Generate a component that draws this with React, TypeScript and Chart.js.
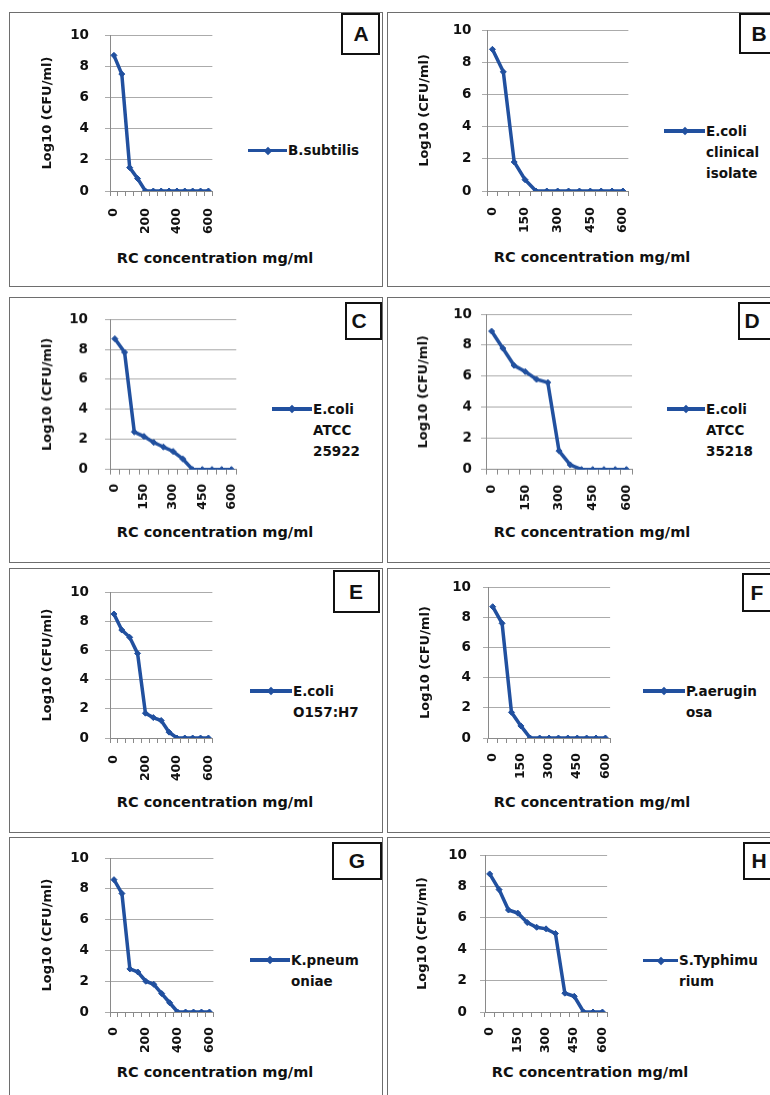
import React, { useEffect, useRef } from "react";
import { Chart, registerables } from "chart.js";

Chart.register(...registerables);

// ---------- data ----------
const categories = ["0", "50", "100", "150", "200", "250", "300", "350", "400", "450", "500", "550", "600"];

const bSubtilis = [8.7, 7.5, 1.5, 0.8, 0, 0, 0, 0, 0, 0, 0, 0, 0];
const eColiClinical = [8.8, 7.4, 1.8, 0.7, 0, 0, 0, 0, 0, 0, 0, 0, 0];
const eColiATCC25922 = [8.7, 7.8, 2.5, 2.2, 1.8, 1.5, 1.2, 0.7, 0, 0, 0, 0, 0];
const eColiATCC35218 = [8.9, 7.8, 6.7, 6.3, 5.8, 5.6, 1.2, 0.3, 0, 0, 0, 0, 0];
const eColiO157 = [8.5, 7.4, 6.9, 5.8, 1.7, 1.4, 1.2, 0.4, 0, 0, 0, 0, 0];
const pAeruginosa = [8.7, 7.6, 1.7, 0.8, 0, 0, 0, 0, 0, 0, 0, 0, 0];
const kPneumoniae = [8.6, 7.7, 2.8, 2.6, 2.0, 1.8, 1.2, 0.6, 0, 0, 0, 0, 0];
const sTyphimurium = [8.8, 7.8, 6.5, 6.3, 5.7, 5.4, 5.3, 5.0, 1.2, 1.0, 0, 0, 0];

const seriesData = [bSubtilis, eColiClinical, eColiATCC25922, eColiATCC35218, eColiO157, pAeruginosa, kPneumoniae, sTyphimurium];
const legendLines = [
  ["B.subtilis"],
  ["E.coli", "clinical", "isolate"],
  ["E.coli", "ATCC", "25922"],
  ["E.coli", "ATCC", "35218"],
  ["E.coli", "O157:H7"],
  ["P.aerugin", "osa"],
  ["K.pneum", "oniae"],
  ["S.Typhimu", "rium"],
];
const panelLetters = ["A", "B", "C", "D", "E", "F", "G", "H"];
const labelEvery = [4, 3, 3, 3, 4, 3, 4, 3];
const yMin = 0;
const yMax = 10;
const yStep = 2;
const yTitle = "Log10 (CFU/ml)";
const xTitle = "RC concentration mg/ml";

// ---------- layout / style ----------
const FONT = "'DejaVu Sans', 'Liberation Sans', sans-serif";
const BLUE = "#21509F";

type Layout = {
  box: number[]; // panel border x,y,w,h
  axisX: number;
  right: number;
  top: number;
  bottom: number;
  yGap: number;
  xGap: number;
  xTitleX: number;
  xTitleY: number;
  legX: number;
  legW: number;
  legY: number;
  letterBox: number[]; // x,y,w,h
  letterCx: number;
};

const layouts: Layout[] = [
  { box: [9, 12, 374, 275], axisX: 110, right: 221, top: 31, bottom: 191, yGap: 21, xGap: 17, xTitleX: 215, xTitleY: 258, legX: 248, legW: 39, legY: 150.5, letterBox: [341, 13, 39, 42], letterCx: 361 },
  { box: [387, 12, 420, 275], axisX: 486.5, right: 634, top: 30, bottom: 191, yGap: 15.5, xGap: 16, xTitleX: 592, xTitleY: 256.7, legX: 664, legW: 41, legY: 131, letterBox: [739, 13, 40, 41], letterCx: 759 },
  { box: [9, 297, 374, 266], axisX: 110, right: 241, top: 314.3, bottom: 469, yGap: 22, xGap: 14, xTitleX: 215, xTitleY: 531.7, legX: 272, legW: 40, legY: 409, letterBox: [345, 302, 37, 38], letterCx: 359 },
  { box: [387, 297, 420, 266], axisX: 486, right: 637, top: 314.3, bottom: 469, yGap: 14, xGap: 15, xTitleX: 592, xTitleY: 531.7, legX: 667, legW: 38, legY: 409, letterBox: [738, 302, 40, 38], letterCx: 752 },
  { box: [9, 568, 374, 265], axisX: 110, right: 221, top: 588, bottom: 738, yGap: 21, xGap: 17, xTitleX: 215, xTitleY: 801.7, legX: 250, legW: 42, legY: 691, letterBox: [333, 570, 47, 43], letterCx: 356 },
  { box: [387, 568, 420, 265], axisX: 488, right: 616, top: 587, bottom: 738, yGap: 17, xGap: 15, xTitleX: 592, xTitleY: 801.7, legX: 643, legW: 42, legY: 691, letterBox: [742, 573, 40, 39], letterCx: 757 },
  { box: [9, 837, 374, 300], axisX: 110, right: 220, top: 854, bottom: 1012, yGap: 21, xGap: 15, xTitleX: 215, xTitleY: 1071.7, legX: 250, legW: 40, legY: 960, letterBox: [332, 842, 50, 38], letterCx: 357 },
  { box: [387, 837, 420, 300], axisX: 485, right: 613, top: 854, bottom: 1012, yGap: 18, xGap: 15, xTitleX: 590, xTitleY: 1071.7, legX: 643, legW: 35, legY: 960.5, letterBox: [743, 842, 40, 38], letterCx: 759 },
];

const Y_AXIS_W = 80;
const PAD_TOP = 20;
const PAD_RIGHT = 15;
const X_AXIS_H = 50;

function Panel({ idx }: { idx: number }) {
  const ref = useRef<HTMLCanvasElement>(null);
  const L = layouts[idx];
  const cLeft = L.axisX - Y_AXIS_W;
  const cTop = L.top - PAD_TOP;
  const cW = L.right + PAD_RIGHT - cLeft;
  const cH = L.bottom + X_AXIS_H - cTop;

  useEffect(() => {
    if (!ref.current) return;
    const every = labelEvery[idx];
    const chart = new Chart(ref.current, {
      type: "line",
      data: {
        labels: categories,
        datasets: [
          {
            label: legendLines[idx].join(""),
            data: seriesData[idx],
            borderColor: BLUE,
            backgroundColor: BLUE,
            borderWidth: 3.5,
            pointStyle: "rectRot",
            pointRadius: 3,
            pointBackgroundColor: BLUE,
            pointBorderColor: BLUE,
            pointBorderWidth: 1,
            tension: 0,
            fill: false,
          },
        ],
      },
      options: {
        animation: false,
        responsive: true,
        maintainAspectRatio: false,
        layout: { padding: { top: PAD_TOP, right: PAD_RIGHT, bottom: 0, left: 0 } },
        plugins: { legend: { display: false }, tooltip: { enabled: false }, title: { display: false } },
        scales: {
          x: {
            type: "category",
            offset: true,
            grid: {
              display: true,
              drawOnChartArea: false,
              drawTicks: true,
              tickLength: 5,
              offset: true,
              color: "#8a8a8a",
            },
            border: { display: true, color: "#8a8a8a", width: 1 },
            ticks: {
              autoSkip: false,
              minRotation: 90,
              maxRotation: 90,
              padding: L.xGap - 5,
              color: "#111",
              font: { family: FONT, size: 12.5, weight: "bold" },
              callback: (_v: any, i: number) => (i % every === 0 ? categories[i] : ""),
            },
            afterFit: (s: any) => {
              s.height = X_AXIS_H;
            },
          },
          y: {
            min: yMin,
            max: yMax,
            ticks: {
              stepSize: yStep,
              padding: L.yGap - 5,
              color: "#111",
              font: { family: FONT, size: 13.5, weight: "bold" },
            },
            grid: { color: "#ababab", lineWidth: 1, tickLength: 5 },
            border: { display: true, color: "#8a8a8a", width: 1 },
            title: {
              display: true,
              text: yTitle,
              color: "#111",
              font: { family: FONT, size: 13, weight: "bold" },
              padding: { top: 18 - 7.8, bottom: 0 },
            },
            afterFit: (s: any) => {
              s.width = Y_AXIS_W;
            },
          },
        },
      },
    } as any);
    return () => chart.destroy();
  }, [idx]);

  const lb = L.letterBox;
  const lines = legendLines[idx];
  return (
    <>
      <div
        style={{
          position: "absolute",
          left: L.box[0],
          top: L.box[1],
          width: L.box[2],
          height: L.box[3],
          border: "1.5px solid #6e6e6e",
          boxSizing: "border-box",
        }}
      />
      <div style={{ position: "absolute", left: cLeft, top: cTop, width: cW, height: cH }}>
        <canvas ref={ref} />
      </div>
      {/* x axis title */}
      <div
        style={{
          position: "absolute",
          left: L.xTitleX,
          top: L.xTitleY,
          transform: "translate(-50%, -50%)",
          whiteSpace: "nowrap",
          fontFamily: FONT,
          fontWeight: "bold",
          fontSize: 14.5,
          color: "#111",
        }}
      >
        {xTitle}
      </div>
      {/* legend */}
      <div style={{ position: "absolute", left: L.legX, top: L.legY - 1.75, width: L.legW, height: 3.5, background: BLUE }} />
      <div
        style={{
          position: "absolute",
          left: L.legX + L.legW / 2 - 3,
          top: L.legY - 3,
          width: 6,
          height: 6,
          background: BLUE,
          transform: "rotate(45deg)",
        }}
      />
      <div
        style={{
          position: "absolute",
          left: L.legX + L.legW + 1,
          top: L.legY - 10.5,
          fontFamily: FONT,
          fontWeight: "bold",
          fontSize: 13.5,
          lineHeight: "21px",
          color: "#111",
          whiteSpace: "nowrap",
        }}
      >
        {lines.map((t, i) => (
          <div key={i}>{t}</div>
        ))}
      </div>
      {/* panel letter */}
      <div
        style={{
          position: "absolute",
          left: lb[0],
          top: lb[1],
          width: lb[2],
          height: lb[3],
          border: "2px solid #111",
          boxSizing: "border-box",
          background: "#fff",
        }}
      >
        <div
          style={{
            position: "absolute",
            left: L.letterCx - lb[0] - 2,
            top: 0,
            transform: "translateX(-50%)",
            lineHeight: `${lb[3] - 4}px`,
            fontFamily: "'Liberation Sans', Arial, sans-serif",
            fontWeight: "bold",
            fontSize: 21,
            color: "#111",
          }}
        >
          {panelLetters[idx]}
        </div>
      </div>
    </>
  );
}

export default function App() {
  return (
    <div
      style={{
        position: "absolute",
        left: 0,
        top: 0,
        width: 770,
        height: 1095,
        overflow: "hidden",
        background: "#fff",
      }}
    >
      {layouts.map((_, i) => (
        <Panel key={i} idx={i} />
      ))}
    </div>
  );
}
